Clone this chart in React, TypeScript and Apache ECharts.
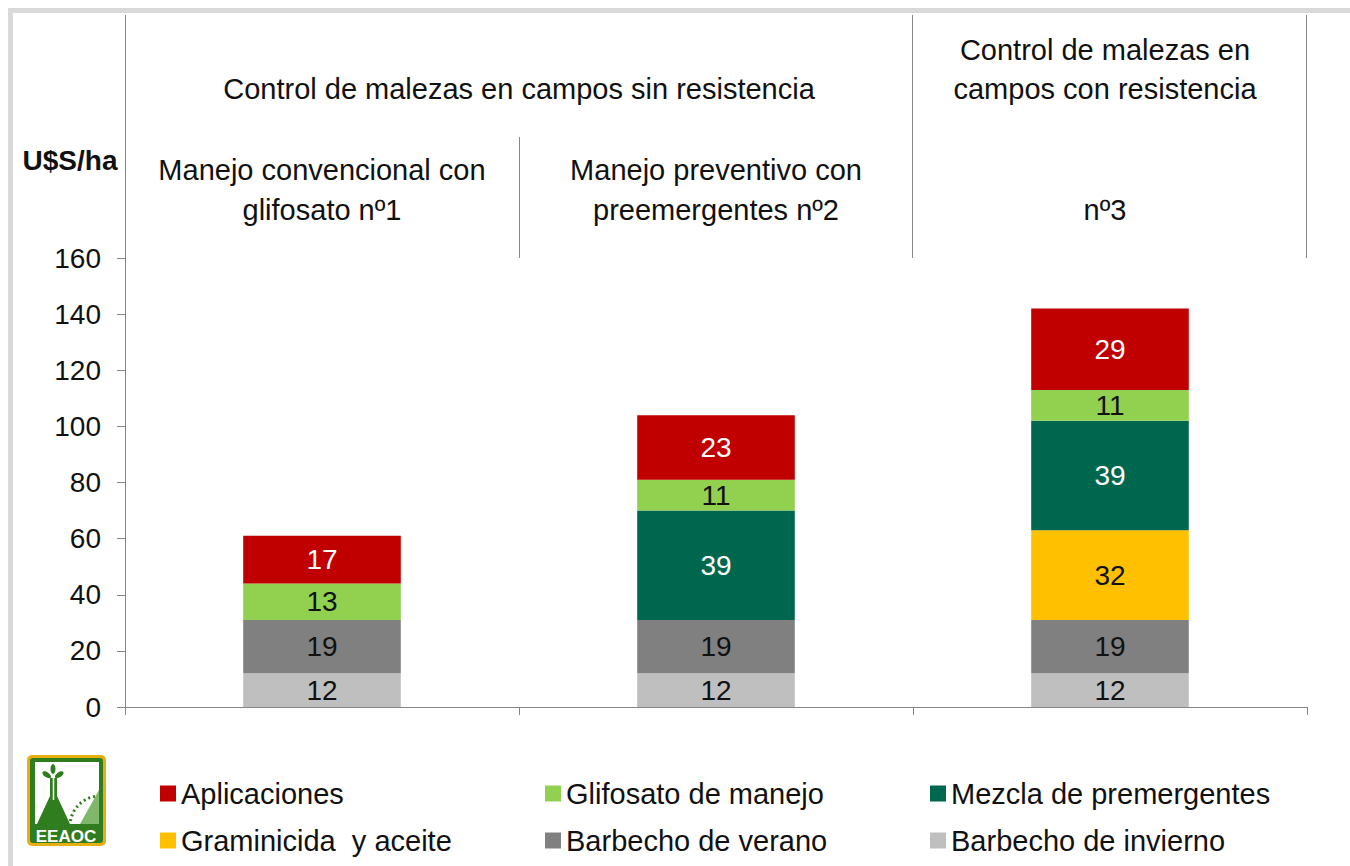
import React, { useEffect, useRef } from "react";
import * as echarts from "echarts";

const categories = ["nº1", "nº2", "nº3"];
const barbechoInvierno = [12, 12, 12];
const barbechoVerano = [19, 19, 19];
const graminicida = [null, null, 32];
const mezcla = [null, 39, 39];
const glifosato = [13, 11, 11];
const aplicaciones = [17, 23, 29];
const yTicks = { min: 0, max: 160, interval: 20 };

const FONT = '"Liberation Sans", Arial, sans-serif';
const AX = "#868686";

export default function App() {
  const ref = useRef<HTMLDivElement>(null);
  useEffect(() => {
    document.body.style.margin = "0";
    const chart = echarts.init(ref.current!, null, { renderer: "svg" });
    const mkSeries = (name: string, data: (number | null)[], color: string, labelColor: string) => ({
      name,
      type: "bar",
      stack: "total",
      data,
      barWidth: "40%",
      itemStyle: { color },
      label: {
        show: true,
        position: "inside",
        color: labelColor,
        fontSize: 28,
        fontFamily: FONT,
        formatter: (p: any) => (p.value == null ? "" : String(p.value)),
      },
    });
    const txt = (text: string, x: number, y: number, extra: any = {}) => ({
      type: "text",
      x,
      y,
      silent: true,
      style: {
        text,
        fontSize: 29,
        fontFamily: FONT,
        fill: "#111",
        textAlign: "center",
        textVerticalAlign: "middle",
        ...extra,
      },
    });
    const vline = (x: number, y1: number, y2: number) => ({
      type: "line",
      silent: true,
      shape: { x1: x, y1, x2: x, y2 },
      style: { stroke: AX, lineWidth: 1 },
    });
    const legendItem = (name: string, left: number, top: number) => ({
      data: [name],
      left,
      top,
      padding: 0,
      itemWidth: 16,
      itemHeight: 16,
      icon: "rect",
      textStyle: { fontSize: 29, fontFamily: FONT, color: "#111" },
      selectedMode: false,
    });
    const G = "#2f7d1f";
    chart.setOption({
      animation: false,
      backgroundColor: "#fff",
      grid: { left: 125, right: 43, top: 258, bottom: 159 },
      legend: [
        legendItem("Aplicaciones", 160, 779),
        legendItem("Glifosato de manejo", 545, 779),
        legendItem("Mezcla de premergentes", 930, 779),
        legendItem("Graminicida  y aceite", 160, 826),
        legendItem("Barbecho de verano", 545, 826),
        legendItem("Barbecho de invierno", 930, 826),
      ],
      xAxis: {
        type: "category",
        data: categories,
        axisLabel: { show: false },
        axisLine: { lineStyle: { color: AX, width: 1 } },
        axisTick: { show: true, length: 8, lineStyle: { color: AX } },
      },
      yAxis: {
        type: "value",
        min: yTicks.min,
        max: yTicks.max,
        interval: yTicks.interval,
        splitLine: { show: false },
        axisLine: { show: true, lineStyle: { color: AX, width: 1 } },
        axisTick: { show: true, length: 8, lineStyle: { color: AX } },
        axisLabel: { fontSize: 28, fontFamily: FONT, color: "#111", margin: 24 },
      },
      series: [
        mkSeries("Barbecho de invierno", barbechoInvierno, "#bfbfbf", "#111"),
        mkSeries("Barbecho de verano", barbechoVerano, "#808080", "#111"),
        mkSeries("Graminicida  y aceite", graminicida, "#ffc000", "#111"),
        mkSeries("Mezcla de premergentes", mezcla, "#00674f", "#fff"),
        mkSeries("Glifosato de manejo", glifosato, "#92d050", "#111"),
        mkSeries("Aplicaciones", aplicaciones, "#c00000", "#fff"),
      ],
      graphic: [
        {
          type: "rect",
          silent: true,
          shape: { x: 10.5, y: 10.5, width: 1400, height: 900 },
          style: { fill: "none", stroke: "#d9d9d9", lineWidth: 5 },
        },
        vline(125.5, 15, 258),
        vline(519.5, 137, 258),
        vline(912.5, 15, 258),
        vline(1306.5, 15, 258),
        txt("Control de malezas en campos sin resistencia", 519, 89),
        txt("Control de malezas en", 1105, 50),
        txt("campos con resistencia", 1105, 89),
        txt("U$S/ha", 70, 160, { fontWeight: "bold", fontSize: 28 }),
        txt("Manejo convencional con", 322, 170),
        txt("glifosato nº1", 322, 210),
        txt("Manejo preventivo con", 716, 170),
        txt("preemergentes nº2", 716, 210),
        txt("nº3", 1105, 210),
        // logo
        {
          type: "group",
          silent: true,
          children: [
            { type: "rect", shape: { x: 27, y: 755, width: 79, height: 91, r: 5 }, style: { fill: "#e6b012" } },
            { type: "rect", shape: { x: 30, y: 758, width: 73, height: 85, r: 3 }, style: { fill: G } },
            { type: "rect", shape: { x: 35, y: 762, width: 64, height: 62 }, style: { fill: "#fff" } },
            {
              type: "polygon",
              shape: { points: [[50, 778], [57, 778], [57, 796], [70, 824], [37, 824], [50, 796]] },
              style: { fill: G },
            },
            { type: "line", shape: { x1: 53.5, y1: 768, x2: 53.5, y2: 800 }, style: { stroke: "#fff", lineWidth: 1.5 } },
            { type: "ellipse", shape: { cx: 47, cy: 775, rx: 5, ry: 2.5 }, rotation: -0.6, originX: 47, originY: 775, style: { fill: G } },
            { type: "ellipse", shape: { cx: 59, cy: 775, rx: 5, ry: 2.5 }, rotation: 0.6, originX: 59, originY: 775, style: { fill: G } },
            { type: "ellipse", shape: { cx: 53, cy: 769, rx: 2.5, ry: 5 }, style: { fill: G } },
            {
              type: "arc",
              shape: { cx: 100, cy: 826, r: 30, startAngle: Math.PI, endAngle: Math.PI * 1.5, clockwise: true },
              style: { stroke: G, lineWidth: 3, lineDash: [2, 3], fill: "none" },
            },
            {
              type: "polygon",
              shape: { points: [[80, 824], [99, 790], [99, 824]] },
              style: { fill: "#7fb86a" },
            },
            {
              type: "text",
              x: 66,
              y: 836,
              style: { text: "EEAOC", fontSize: 17, fontWeight: "bold", fontFamily: FONT, fill: "#fff", textAlign: "center", textVerticalAlign: "middle" },
            },
          ],
        },
      ],
    });
    return () => chart.dispose();
  }, []);
  return <div ref={ref} style={{ width: 1350, height: 866 }} />;
}
